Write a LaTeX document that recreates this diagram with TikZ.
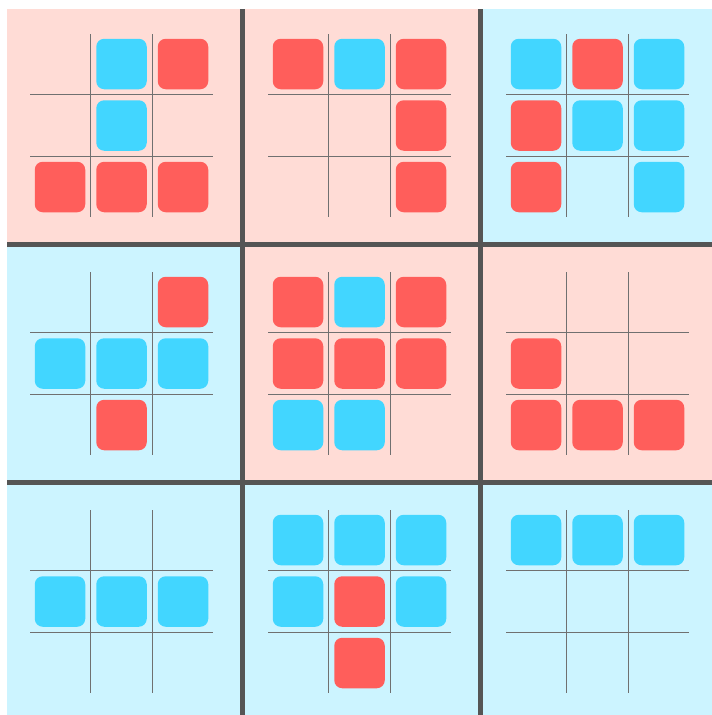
\documentclass[tikz,border=0pt]{standalone}
\definecolor{pinkbg}{HTML}{FFDCD6}
\definecolor{cyanbg}{HTML}{CCF4FF}
\definecolor{redsq}{HTML}{FF5E5B}
\definecolor{bluesq}{HTML}{42D6FF}
\definecolor{thickc}{HTML}{555555}
\definecolor{thinc}{HTML}{707070}
\tikzset{
  sq/.style={minimum size=50.5pt, inner sep=0pt, rounded corners=8pt, draw=none},
  R/.style={sq, fill=redsq},
  B/.style={sq, fill=bluesq},
  gridline/.style={draw=thinc, line width=1.8pt},
  sepline/.style={draw=thickc, line width=4.5pt},
}
\begin{document}
\begin{tikzpicture}[x=1pt,y=-1pt]
\useasboundingbox (0,0) rectangle (712,715);
\fill[white] (0,0) rectangle (712,715);
\begin{scope}
\clip (7,9) rectangle (712,715);
% cell backgrounds
\foreach \r/\c/\col in {0/0/pinkbg,0/1/pinkbg,0/2/cyanbg,
                        1/0/cyanbg,1/1/pinkbg,1/2/pinkbg,
                        2/0/cyanbg,2/1/cyanbg,2/2/cyanbg}
  \fill[\col] ({4.5+238*\c},{6.5+238*\r}) rectangle +(238,238);
% separators
\foreach \x in {242.5,480.5}
  \draw[sepline] (\x,9) -- (\x,715);
\foreach \y in {244.5,482.5}
  \draw[sepline] (7,\y) -- (712,\y);
% board grid lines
\foreach \r in {0,1,2}{
  \foreach \c in {0,1,2}{
    \pgfmathsetmacro{\cx}{4.5+238*\c+117}
    \pgfmathsetmacro{\cy}{6.5+238*\r+119}
    \foreach \d in {-31,31}{
      \draw[gridline] ({\cx+\d},{\cy-91.5}) -- ({\cx+\d},{\cy+91.5});
      \draw[gridline] ({\cx-91.5},{\cy+\d}) -- ({\cx+91.5},{\cy+\d});
    }
  }
}
% marks
\foreach \r/\c/\i/\j/\t in {
  0/0/0/1/B,0/0/0/2/R,0/0/1/1/B,0/0/2/0/R,0/0/2/1/R,0/0/2/2/R,
  0/1/0/0/R,0/1/0/1/B,0/1/0/2/R,0/1/1/2/R,0/1/2/2/R,
  0/2/0/0/B,0/2/0/1/R,0/2/0/2/B,0/2/1/0/R,0/2/1/1/B,0/2/1/2/B,0/2/2/0/R,0/2/2/2/B,
  1/0/0/2/R,1/0/1/0/B,1/0/1/1/B,1/0/1/2/B,1/0/2/1/R,
  1/1/0/0/R,1/1/0/1/B,1/1/0/2/R,1/1/1/0/R,1/1/1/1/R,1/1/1/2/R,1/1/2/0/B,1/1/2/1/B,
  1/2/1/0/R,1/2/2/0/R,1/2/2/1/R,1/2/2/2/R,
  2/0/1/0/B,2/0/1/1/B,2/0/1/2/B,
  2/1/0/0/B,2/1/0/1/B,2/1/0/2/B,2/1/1/0/B,2/1/1/1/R,2/1/1/2/B,2/1/2/1/R,
  2/2/0/0/B,2/2/0/1/B,2/2/0/2/B}
  \node[\t] (sq-\r-\c-\i-\j) at ({4.5+238*\c+117+61.5*(\j-1)},{6.5+238*\r+119+61.5*(\i-1)}) {};
\end{scope}
\end{tikzpicture}
\end{document}
